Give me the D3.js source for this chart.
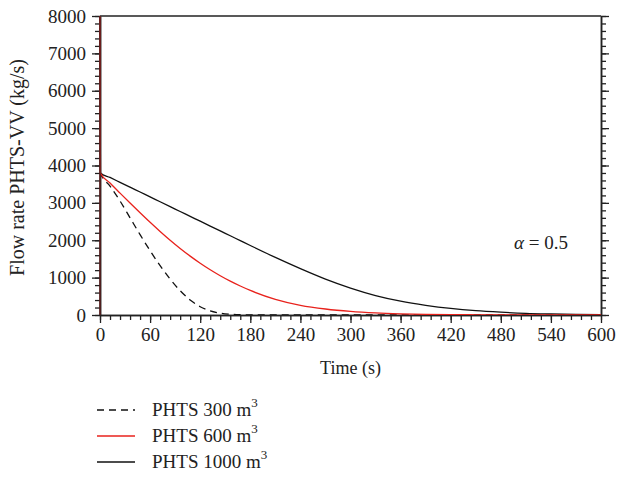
<!DOCTYPE html>
<html><head><meta charset="utf-8">
<script src="https://cdn.jsdelivr.net/npm/d3@7"></script>
<style>body{margin:0;background:#fff}svg{display:block}</style>
</head><body><svg id="c" width="641" height="479"></svg>
<script>
const times = [0, 0.5, 12, 24, 36, 48, 60, 72, 84, 96, 108, 120, 132, 144, 156, 168, 180, 210, 240, 270, 300, 330, 360, 390, 420, 450, 480, 510, 540, 570, 600];
const phts300 = [8000, 3800, 3450, 3050, 2600, 2150, 1720, 1320, 960, 650, 400, 220, 110, 50, 20, 6, 0, 0, 0, 0, 0, 0, 0, 0, 0, 0, 0, 0, 0, 0, 0];
const phts600 = [8000, 3800, 3530, 3260, 2995, 2735, 2480, 2235, 2000, 1780, 1575, 1385, 1210, 1050, 905, 775, 657, 420, 260, 160, 95, 55, 32, 18, 10, 6, 3, 2, 1, 0, 0];
const phts1000 = [8000, 3800, 3680, 3550, 3420, 3290, 3160, 3030, 2900, 2770, 2640, 2510, 2380, 2250, 2120, 1990, 1860, 1540, 1240, 960, 720, 520, 370, 260, 175, 115, 75, 45, 28, 16, 9];
const seriesNames = ["PHTS 300", "PHTS 600", "PHTS 1000"];
const xTicks = [0, 60, 120, 180, 240, 300, 360, 420, 480, 540, 600];
const yTicks = [0, 1000, 2000, 3000, 4000, 5000, 6000, 7000, 8000];

const svg = d3.select("#c");
const font = "'Liberation Serif', 'Times New Roman', serif";
const FS = 19;
const L = 100, R = 601, T = 16, B = 315;
const x = d3.scaleLinear().domain([0, 600]).range([L, R]);
const y = d3.scaleLinear().domain([0, 8000]).range([B, T]);

svg.append("defs").append("clipPath").attr("id", "clip")
  .append("rect").attr("x", L - 1).attr("y", T).attr("width", R - L + 2).attr("height", B - T);

const minorX = d3.range(0, 601, 12);
const minorY = d3.range(0, 8001, 200);

function styleAxis(g) {
  g.selectAll("path.domain").attr("stroke", "#222").attr("stroke-width", 1.5);
  g.selectAll("line").attr("stroke", "#222").attr("stroke-width", 1.3);
  g.selectAll("text").attr("font-family", font).attr("font-size", FS).attr("fill", "#222");
}

svg.append("g").attr("transform", `translate(0,${B})`)
  .call(d3.axisBottom(x).tickValues(minorX).tickSize(5).tickFormat("").tickSizeOuter(0))
  .call(styleAxis);
svg.append("g").attr("transform", `translate(${L},0)`)
  .call(d3.axisLeft(y).tickValues(minorY).tickSize(5).tickFormat("").tickSizeOuter(0))
  .call(styleAxis);
svg.append("g").attr("transform", `translate(${R},0)`)
  .call(d3.axisRight(y).tickValues(minorY).tickSize(5).tickFormat("").tickSizeOuter(0))
  .call(styleAxis);
svg.append("g").attr("transform", `translate(0,${B})`)
  .call(d3.axisBottom(x).tickValues(xTicks).tickFormat(d3.format("d")).tickSize(8).tickPadding(5).tickSizeOuter(0))
  .call(styleAxis);
svg.append("g").attr("transform", `translate(${L},0)`)
  .call(d3.axisLeft(y).tickValues(yTicks).tickFormat(d3.format("d")).tickSize(8).tickPadding(6).tickSizeOuter(0))
  .call(styleAxis);
svg.append("g").attr("transform", `translate(${R},0)`)
  .call(d3.axisRight(y).tickValues(yTicks).tickSize(8).tickFormat("").tickSizeOuter(0))
  .call(styleAxis);
svg.append("line").attr("x1", L).attr("x2", R).attr("y1", T).attr("y2", T)
  .attr("stroke", "#222").attr("stroke-width", 1.5);

const series = [
  {vals: phts300, color: "#111", dash: "7,5"},
  {vals: phts600, color: "#e8221c", dash: null},
  {vals: phts1000, color: "#111", dash: null}
];
const line = d3.line().x((d, i) => x(times[i])).y(d => y(d)).curve(d3.curveMonotoneX);
const gl = svg.append("g").attr("clip-path", "url(#clip)");
[2, 0, 1].forEach(k => {
  const s = series[k];
  gl.append("path").datum(s.vals).attr("d", line)
    .attr("fill", "none").attr("stroke", s.color).attr("stroke-width", 1.3)
    .attr("stroke-dasharray", s.dash);
});
svg.append("line").attr("x1", x(0)).attr("x2", x(0)).attr("y1", T).attr("y2", B)
  .attr("stroke", "#5a1f1f").attr("stroke-width", 1.6);

svg.append("text").attr("x", (L + R) / 2).attr("y", 374).attr("text-anchor", "middle")
  .attr("font-family", font).attr("font-size", FS - 1).attr("fill", "#222").text("Time (s)");
svg.append("text").attr("transform", `translate(24,${(T + B) / 2 + 2}) rotate(-90)`)
  .attr("text-anchor", "middle").attr("font-family", font).attr("font-size", 20).attr("fill", "#222")
  .text("Flow rate PHTS-VV (kg/s)");

const at = svg.append("text").attr("x", 514).attr("y", 249).attr("font-family", font)
  .attr("font-size", FS).attr("fill", "#222");
at.append("tspan").attr("font-style", "italic").text("α");
at.append("tspan").text(" = 0.5");

const legY = [410, 436, 462];
series.forEach((s, i) => {
  svg.append("line").attr("x1", 97).attr("x2", 135).attr("y1", legY[i]).attr("y2", legY[i])
    .attr("stroke", s.color).attr("stroke-width", 1.3).attr("stroke-dasharray", s.dash);
  const t = svg.append("text").attr("x", 152).attr("y", legY[i] + 6).attr("font-family", font)
    .attr("font-size", FS).attr("fill", "#222");
  t.append("tspan").text(seriesNames[i] + " m");
  t.append("tspan").attr("dy", -9).attr("font-size", 13).text("3");
});
</script></body></html>
